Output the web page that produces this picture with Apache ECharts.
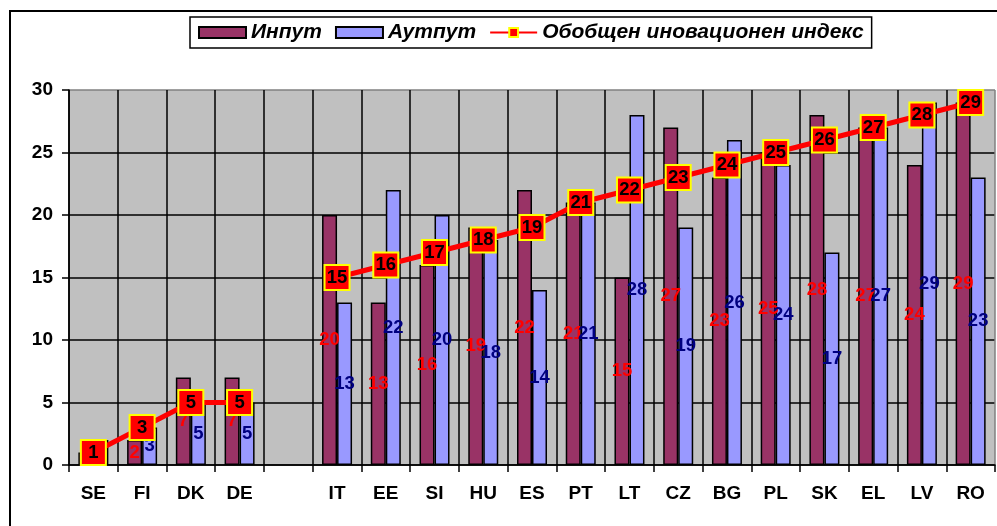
<!DOCTYPE html>
<html>
<head>
<meta charset="utf-8">
<script src="https://cdn.jsdelivr.net/npm/echarts@6/dist/echarts.min.js"></script>
<style>
  html, body { margin: 0; padding: 0; background: #fff; }
  #chart { width: 997px; height: 526px; }
</style>
</head>
<body>
<div id="chart"></div>
<script>
// categories (blank slot keeps the gap between DE and IT)
const countries = ['SE', 'FI', 'DK', 'DE', '', 'IT', 'EE', 'SI', 'HU', 'ES', 'PT', 'LT', 'CZ', 'BG', 'PL', 'SK', 'EL', 'LV', 'RO']
const inputRank = [1, 2, 7, 7, null, 20, 13, 16, 19, 22, 21, 15, 27, 23, 25, 28, 27, 24, 29]
const outputRank = [2, 3, 5, 5, null, 13, 22, 20, 18, 14, 21, 28, 19, 26, 24, 17, 27, 29, 23]
const indexRank = [1, 3, 5, 5, null, 15, 16, 17, 18, 19, 21, 22, 23, 24, 25, 26, 27, 28, 29]
const yTicks = [0, 5, 10, 15, 20, 25, 30]

const FONT = 'Arial, "Liberation Sans", sans-serif'

const ySplitColors = yTicks.map((t, i) => i === yTicks.length - 1 ? '#808080' : '#000')
const xSplitColors = countries.map(() => '#000').concat(['#808080'])

const barLabel = (color) => ({
  show: true,
  position: 'inside',
  color: color,
  fontFamily: FONT,
  fontWeight: 'bold',
  fontSize: 18.5,
  textBorderWidth: 0
})

const option = {
  animation: false,
  backgroundColor: '#fff',
  textStyle: { fontFamily: FONT },
  graphic: [
    {
      type: 'rect',
      z: -10,
      shape: { x: 10, y: 11, width: 1100, height: 700 },
      style: { fill: 'none', stroke: '#000', lineWidth: 2 },
      silent: true
    }
  ],
  legend: {
    left: 190,
    top: 17,
    padding: [5, 8, 5, 8],
    itemGap: 13,
    itemWidth: 47,
    itemHeight: 11,
    backgroundColor: '#fff',
    borderColor: '#000',
    borderWidth: 1.5,
    borderRadius: 0,
    textStyle: {
      fontFamily: FONT,
      fontSize: 21,
      fontWeight: 'bold',
      fontStyle: 'italic',
      color: '#000'
    },
    data: [
      { name: 'Инпут', icon: 'rect' },
      { name: 'Аутпут', icon: 'rect' },
      { name: 'Обобщен иновационен индекс' }
    ]
  },
  grid: {
    left: 69,
    right: 2,
    top: 90,
    bottom: 61,
    show: true,
    backgroundColor: '#c0c0c0',
    borderWidth: 0
  },
  xAxis: {
    type: 'category',
    data: countries,
    boundaryGap: true,
    axisLine: { show: true, lineStyle: { color: '#000', width: 1.5 } },
    axisTick: { show: true, length: 7, interval: 0, lineStyle: { color: '#000', width: 1.5 } },
    axisLabel: {
      interval: 0,
      margin: 19,
      color: '#000',
      fontFamily: FONT,
      fontWeight: 'bold',
      fontSize: 19
    },
    splitLine: { show: true, interval: 0, lineStyle: { color: xSplitColors, width: 1.5 } }
  },
  yAxis: {
    type: 'value',
    min: 0,
    max: 30,
    interval: 5,
    axisLine: { show: true, lineStyle: { color: '#000', width: 1.5 } },
    axisTick: { show: true, length: 7, lineStyle: { color: '#000', width: 1.5 } },
    axisLabel: {
      margin: 16,
      color: '#000',
      fontFamily: FONT,
      fontWeight: 'bold',
      fontSize: 19
    },
    splitLine: { show: true, lineStyle: { color: ySplitColors, width: 1.5 } }
  },
  series: [
    {
      name: 'Инпут',
      type: 'bar',
      data: inputRank,
      barWidth: 15,
      barGap: '0%',
      itemStyle: { color: '#993366', borderColor: '#000', borderWidth: 1.5 },
      label: barLabel('#ff0000')
    },
    {
      name: 'Аутпут',
      type: 'bar',
      data: outputRank,
      barWidth: 15,
      barGap: '0%',
      itemStyle: { color: '#9999ff', borderColor: '#000', borderWidth: 1.5 },
      label: barLabel('#000080')
    },
    {
      name: 'Обобщен иновационен индекс',
      type: 'line',
      data: indexRank,
      connectNulls: false,
      z: 5,
      symbol: 'rect',
      symbolSize: 25,
      showAllSymbol: true,
      lineStyle: { color: '#ff0000', width: 5 },
      itemStyle: { color: '#ff0000', borderColor: '#ffff00', borderWidth: 2 },
      label: {
        show: true,
        position: 'inside',
        color: '#000',
        fontFamily: FONT,
        fontWeight: 'bold',
        fontSize: 18.5,
        textBorderWidth: 0
      }
    }
  ]
}

const chart = echarts.init(document.getElementById('chart'))
chart.setOption(option)
window.addEventListener('resize', () => chart.resize())
</script>
</body>
</html>
